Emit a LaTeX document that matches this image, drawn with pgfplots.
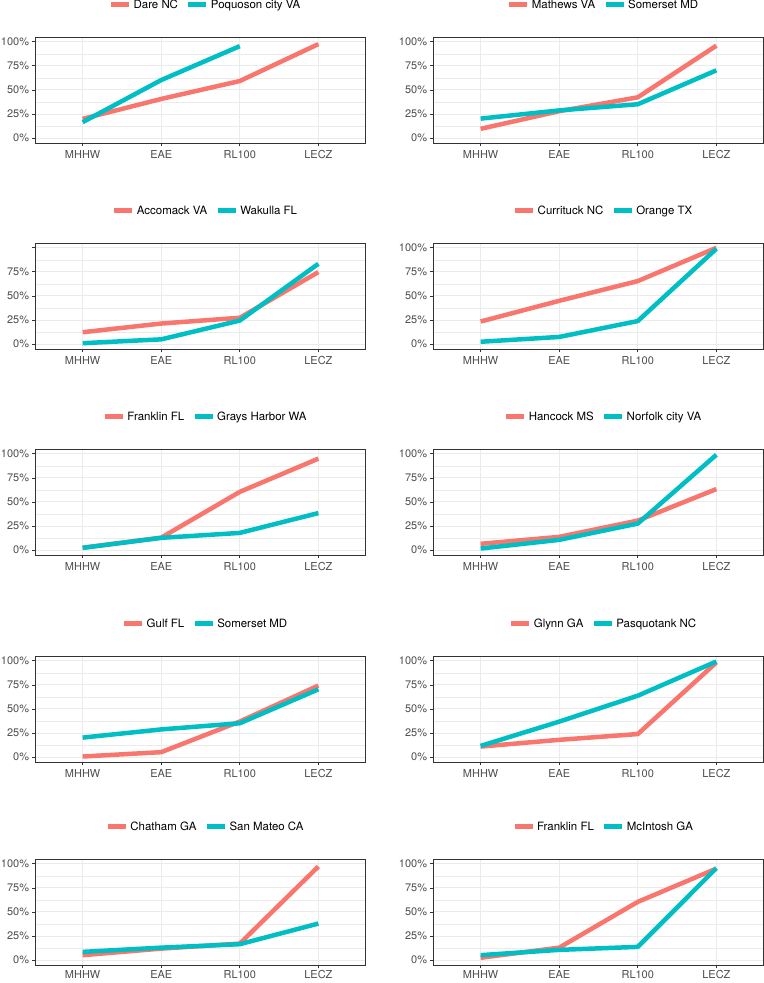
\documentclass[border=0pt]{standalone}
\usepackage{fontspec}
\setmainfont{TeX Gyre Heros}
\usepackage{pgfplots}
\pgfplotsset{compat=1.18}
\definecolor{cred}{HTML}{F8766D}
\definecolor{ccyan}{HTML}{00BFC4}
\definecolor{gridmaj}{HTML}{EBEBEB}
\definecolor{gtwenty}{HTML}{333333}
\definecolor{gthirty}{HTML}{4D4D4D}
\pgfplotsset{pan/.style={
  scale only axis, width=330bp, height=106bp, anchor=north west,
  xmin=0.4, xmax=4.6, ymin=-5, ymax=105,
  xtick={1,2,3,4}, xticklabels={MHHW,EAE,RL100,LECZ},
  ytick={0,25,50,75,100}, yticklabels={0\%,25\%,50\%,75\%,100\%},
  minor ytick={12.5,37.5,62.5,87.5},
  grid=both,
  major grid style={gridmaj, line width=1bp},
  minor grid style={gridmaj, line width=0.5bp},
  tick pos=left, tick align=outside,
  major tick length=3.5bp, minor tick length=0bp,
  tick style={gtwenty, line width=0.8bp},
  axis line style={gtwenty, line width=0.8bp},
  ticklabel style={font=\fontsize{11}{13}\selectfont, text=gthirty},
  yticklabel style={inner xsep=2.8bp},
  xticklabel style={inner ysep=3.5bp},
  legend style={draw=none, fill=none, at={(0.5,1)}, anchor=center,
    yshift=32bp, xshift=5bp, legend columns=2,
    font=\fontsize{11.5}{13}\selectfont,
    /tikz/every even column/.append style={column sep=6bp}},
  legend image code/.code={\draw[line width=5bp] (0bp,0bp) -- (18bp,0bp);},
  every axis plot/.append style={line width=4.5bp, line join=round, line cap=butt, mark=none},
}}
\begin{document}
\begin{tikzpicture}
\useasboundingbox (0,0) rectangle (764bp,983bp);
% Row 1
\begin{axis}[pan, at={(35.5bp,946bp)}]
\addplot[cred] coordinates {(1,20) (2,40.7) (3,59.3) (4,97.6)};
\addlegendentry{Dare NC}
\addplot[ccyan] coordinates {(1,16.6) (2,60.3) (3,95.5)};
\addlegendentry{Poquoson city VA}
\end{axis}
\begin{axis}[pan, at={(433.5bp,946bp)}]
\addplot[cred] coordinates {(1,9.7) (2,28) (3,42.4) (4,96)};
\addlegendentry{Mathews VA}
\addplot[ccyan] coordinates {(1,20.3) (2,28.8) (3,35.2) (4,70.4)};
\addlegendentry{Somerset MD}
\end{axis}
% Row 2
\begin{axis}[pan, at={(35.5bp,740bp)}, yticklabels={0\%,25\%,50\%,75\%,{}}]
\addplot[cred] coordinates {(1,12.4) (2,21.4) (3,27.4) (4,74.8)};
\addlegendentry{Accomack VA}
\addplot[ccyan] coordinates {(1,1) (2,5) (3,24.5) (4,83.4)};
\addlegendentry{Wakulla FL}
\end{axis}
\begin{axis}[pan, at={(433.5bp,740bp)}]
\addplot[cred] coordinates {(1,23.5) (2,45) (3,65.5) (4,100)};
\addlegendentry{Currituck NC}
\addplot[ccyan] coordinates {(1,2.5) (2,7.5) (3,24) (4,99)};
\addlegendentry{Orange TX}
\end{axis}
% Row 3
\begin{axis}[pan, at={(35.5bp,534bp)}]
\addplot[cred] coordinates {(1,2.5) (2,13) (3,60.5) (4,95)};
\addlegendentry{Franklin FL}
\addplot[ccyan] coordinates {(1,2.4) (2,12.8) (3,17.9) (4,38.5)};
\addlegendentry{Grays Harbor WA}
\end{axis}
\begin{axis}[pan, at={(433.5bp,534bp)}]
\addplot[cred] coordinates {(1,6.6) (2,13.8) (3,30.7) (4,63.4)};
\addlegendentry{Hancock MS}
\addplot[ccyan] coordinates {(1,1.7) (2,10.7) (3,27.6) (4,99)};
\addlegendentry{Norfolk city VA}
\end{axis}
% Row 4
\begin{axis}[pan, at={(35.5bp,327bp)}]
\addplot[cred] coordinates {(1,0.7) (2,5.2) (3,37) (4,74.3)};
\addlegendentry{Gulf FL}
\addplot[ccyan] coordinates {(1,20.3) (2,28.8) (3,35.2) (4,70.4)};
\addlegendentry{Somerset MD}
\end{axis}
\begin{axis}[pan, at={(433.5bp,327bp)}]
\addplot[cred] coordinates {(1,11) (2,18) (3,24) (4,98.3)};
\addlegendentry{Glynn GA}
\addplot[ccyan] coordinates {(1,11.7) (2,36.9) (3,63.8) (4,99.3)};
\addlegendentry{Pasquotank NC}
\end{axis}
% Row 5
\begin{axis}[pan, at={(35.5bp,124bp)}, xticklabel style={inner ysep=1.5bp}]
\addplot[cred] coordinates {(1,5.2) (2,12) (3,17.2) (4,97.2)};
\addlegendentry{Chatham GA}
\addplot[ccyan] coordinates {(1,8.6) (2,13) (3,16.6) (4,38)};
\addlegendentry{San Mateo CA}
\end{axis}
\begin{axis}[pan, at={(433.5bp,124bp)}, xticklabel style={inner ysep=1.5bp}]
\addplot[cred] coordinates {(1,2.5) (2,13) (3,60.5) (4,95)};
\addlegendentry{Franklin FL}
\addplot[ccyan] coordinates {(1,5.2) (2,10.7) (3,13.8) (4,95.5)};
\addlegendentry{McIntosh GA}
\end{axis}
\end{tikzpicture}
\end{document}
